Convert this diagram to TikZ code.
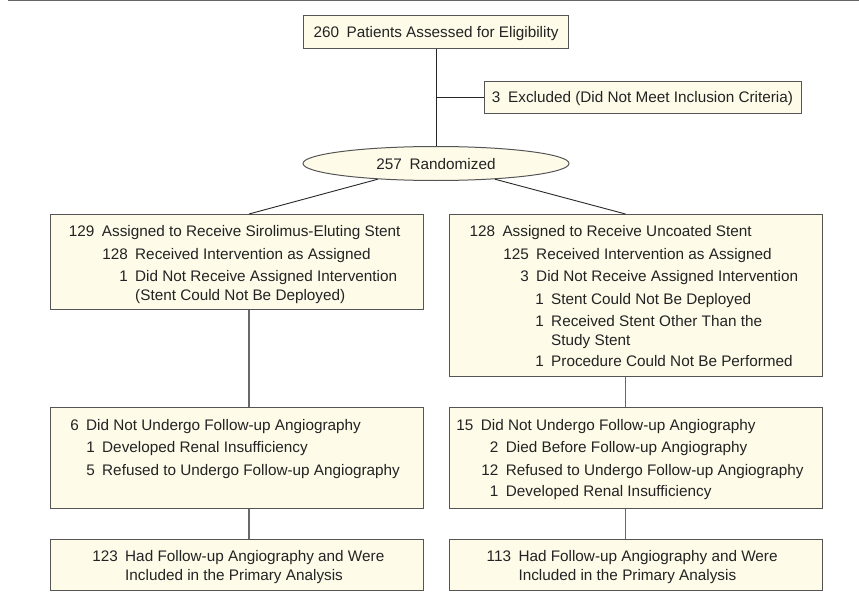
\documentclass[tikz,border=0pt]{standalone}
\usepackage{fontspec}
\setmainfont{Liberation Sans}
\usetikzlibrary{shapes.geometric}
\definecolor{cream}{RGB}{254,251,233}
\definecolor{boxline}{RGB}{85,85,85}
\definecolor{txtcol}{RGB}{35,35,35}
\definecolor{conn}{RGB}{105,105,105}
\newcommand{\flowentry}[5]{%
  \node[txt, anchor=base east] (#1n) at (#2-7,#3) {#4};
  \node[txt, anchor=base west] (#1t) at (#2,#3) {#5};}
\begin{document}
\begin{tikzpicture}[x=1pt,y=-1pt,
  box/.style={draw=boxline, fill=cream, line width=1pt, inner sep=0pt, rectangle,
    text=txtcol, font=\fontsize{15.3}{18}\selectfont, text height=11pt, text depth=0pt},
  oval/.style={box, ellipse},
  txt/.style={inner sep=0pt, text=txtcol, font=\fontsize{15.3}{18}\selectfont},
  toplink/.style={draw=black!85, line width=0.9pt},
  link/.style={draw=conn, line width=1.2pt},
]
\useasboundingbox (0,0) rectangle (859,599);
\draw[draw=black!60, line width=1.5pt] (8,0.75) -- (859,0.75);

% boxes
\node[box, minimum width=265.4pt, minimum height=32.6pt] (t) at (436,32) {260\enspace Patients Assessed for Eligibility};
\node[box, minimum width=317pt, minimum height=32.3pt] (ex) at (642.5,97.2) {3\enspace Excluded (Did Not Meet Inclusion Criteria)};
\node[oval, minimum width=266pt, minimum height=34pt] (r) at (436,163.5) {257\enspace Randomized};
\node[box, minimum width=372.6pt, minimum height=95pt] (L1) at (237,261.5) {};
\node[box, minimum width=373.4pt, minimum height=162.7pt] (R1) at (636,295.35) {};
\node[box, minimum width=372.6pt, minimum height=101pt] (L2) at (237,457.8) {};
\node[box, minimum width=373.4pt, minimum height=100.6pt] (R2) at (636,458) {};
\node[box, minimum width=372.6pt, minimum height=50.7pt] (L3) at (237,564.65) {};
\node[box, minimum width=373.4pt, minimum height=50.7pt] (R3) at (636,564.65) {};

% connector anchors
\coordinate (lx) at (249,214);
\coordinate (rx) at (625.5,214);

% connectors
\draw[toplink] (t) -- (r);
\draw[toplink] (ex.west) -- (ex.west -| t.south);
\draw[toplink] (r) -- (lx);
\draw[toplink] (r) -- (rx);
\draw[link] (L1.south -| lx) -- (L2.north -| lx);
\draw[link] (L2.south -| lx) -- (L3.north -| lx);
\draw[link] (R1.south -| rx) -- (R2.north -| rx);
\draw[link] (R2.south -| rx) -- (R3.north -| rx);

% left box 1
\flowentry{la}{101.7}{236}{129}{Assigned to Receive Sirolimus-Eluting Stent}
\flowentry{lb}{135}{259}{128}{Received Intervention as Assigned}
\flowentry{lc}{135}{281.3}{1}{Did Not Receive Assigned Intervention}
\node[txt, anchor=base west] (ld) at (135,300.5) {(Stent Could Not Be Deployed)};

% right box 1
\flowentry{ra}{502.3}{236}{128}{Assigned to Receive Uncoated Stent}
\flowentry{rb}{536}{259}{125}{Received Intervention as Assigned}
\flowentry{rc}{536}{281.3}{3}{Did Not Receive Assigned Intervention}
\flowentry{rd}{551}{304.3}{1}{Stent Could Not Be Deployed}
\flowentry{re}{551}{326}{1}{Received Stent Other Than the}
\node[txt, anchor=base west] (rf) at (551,345) {Study Stent};
\flowentry{rg}{551}{366.7}{1}{Procedure Could Not Be Performed}

% left box 2
\flowentry{lm}{86}{430}{6}{Did Not Undergo Follow-up Angiography}
\flowentry{ln}{102}{452.3}{1}{Developed Renal Insufficiency}
\flowentry{lo}{102}{475}{5}{Refused to Undergo Follow-up Angiography}

% right box 2
\flowentry{rm}{480.7}{430}{15}{Did Not Undergo Follow-up Angiography}
\flowentry{rn}{505.7}{452.3}{2}{Died Before Follow-up Angiography}
\flowentry{ro}{505.7}{475}{12}{Refused to Undergo Follow-up Angiography}
\flowentry{rp}{505.7}{496.3}{1}{Developed Renal Insufficiency}

% bottom boxes
\flowentry{lx}{125}{561}{123}{Had Follow-up Angiography and Were}
\node[txt, anchor=base west] (ly) at (125,580) {Included in the Primary Analysis};
\flowentry{rx}{518.3}{561}{113}{Had Follow-up Angiography and Were}
\node[txt, anchor=base west] (ry) at (518.3,580) {Included in the Primary Analysis};
\end{tikzpicture}
\end{document}
